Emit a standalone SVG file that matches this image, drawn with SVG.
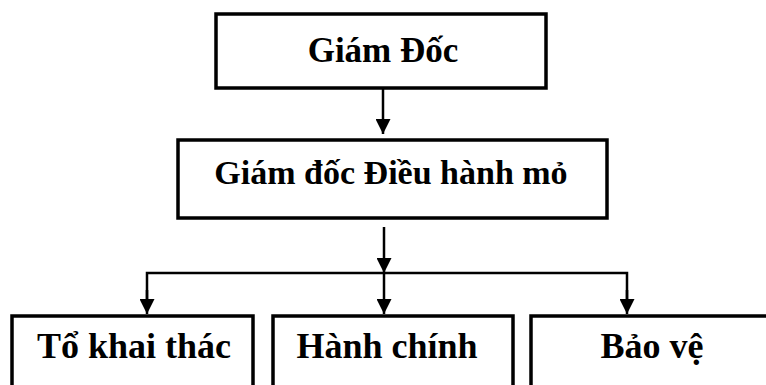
<svg xmlns="http://www.w3.org/2000/svg" width="766" height="385" viewBox="0 0 766 385">
<defs>
<marker id="arr" markerWidth="15" markerHeight="15" refX="15" refY="7.5" orient="auto" markerUnits="userSpaceOnUse">
<path d="M0,0 L15,7.5 L0,15 Z" fill="#000"/>
</marker>
<style>
.box{fill:#fff;stroke:#000;stroke-width:3.5}
.t{font-family:"Liberation Serif","Times New Roman",serif;font-weight:bold;fill:#000;text-anchor:middle}
.c{stroke:#000;stroke-width:2.5;fill:none}
</style>
</defs>
<rect width="766" height="385" fill="#fff"/>
<g id="giam-doc"><rect class="box" x="216" y="14" width="330" height="74"/><text class="t" x="383" y="62" font-size="35">Giám Đốc</text></g>
<g id="giam-doc-dieu-hanh"><rect class="box" x="178" y="140" width="429" height="78"/><text class="t" x="391" y="184" font-size="34">Giám đốc Điều hành mỏ</text></g>
<g id="to-khai-thac"><rect class="box" x="12" y="316" width="241" height="90"/><text class="t" x="134" y="358" font-size="36">Tổ khai thác</text></g>
<g id="hanh-chinh"><rect class="box" x="273" y="316" width="240" height="90"/><text class="t" x="387" y="358" font-size="36">Hành chính</text></g>
<g id="bao-ve"><rect class="box" x="531" y="316" width="250" height="90"/><text class="t" x="652" y="358" font-size="36">Bảo vệ</text></g>
<g id="connectors">
<line class="c" x1="383" y1="88" x2="383" y2="134" marker-end="url(#arr)"/>
<line class="c" x1="384" y1="227" x2="384" y2="273" marker-end="url(#arr)"/>
<polyline class="c" points="147,300 147,273 627,273 627,300"/>
<line class="c" x1="147" y1="290" x2="147" y2="314" marker-end="url(#arr)"/>
<line class="c" x1="384" y1="273" x2="384" y2="314" marker-end="url(#arr)"/>
<line class="c" x1="627" y1="290" x2="627" y2="314" marker-end="url(#arr)"/>
</g>
</svg>
